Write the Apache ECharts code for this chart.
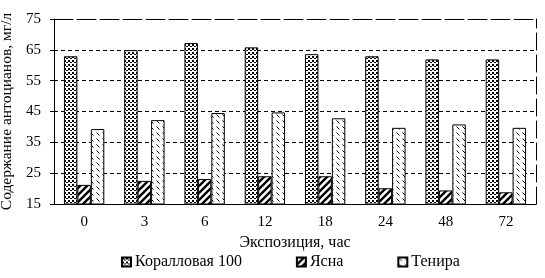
<!DOCTYPE html>
<html>
<head>
<meta charset="utf-8">
<script src="https://cdn.jsdelivr.net/npm/echarts@6/dist/echarts.min.js"></script>
<style>
  html, body { margin: 0; padding: 0; background: #fff; }
  #chart { width: 545px; height: 278px; }
</style>
</head>
<body>
<div id="chart"></div>
<script>
// chart data
const categories = ['0', '3', '6', '12', '18', '24', '48', '72']
const seriesNames = ['Коралловая 100', 'Ясна', 'Тенира']
const koral = [62.9, 64.9, 67.2, 65.8, 63.6, 62.9, 61.9, 61.9]
const yasna = [21.2, 22.5, 23.1, 24.0, 24.0, 20.1, 19.4, 18.8]
const tenira = [39.3, 42.2, 44.5, 44.7, 42.8, 39.7, 40.8, 39.7]

const font = '"Liberation Serif", "Times New Roman", serif'

// pattern tiles for the bar fills
function tile(size, draw) {
  const c = document.createElement('canvas')
  c.width = size
  c.height = size
  const ctx = c.getContext('2d')
  ctx.fillStyle = '#fff'
  ctx.fillRect(0, 0, size, size)
  draw(ctx)
  return { image: c, repeat: 'repeat' }
}

const dots = tile(4, ctx => {
  ctx.fillStyle = '#000'
  ctx.fillRect(0, 0, 2, 2)
  ctx.fillRect(2, 2, 2, 1)
})

const hatch = tile(7, ctx => {
  ctx.strokeStyle = '#000'
  ctx.lineWidth = 2.4
  ctx.beginPath()
  for (let k = -7; k <= 14; k += 7) {
    ctx.moveTo(k - 1, 8)
    ctx.lineTo(k + 8, -1)
  }
  ctx.stroke()
})

const dashes = tile(6, ctx => {
  ctx.strokeStyle = '#000'
  ctx.lineWidth = 1
  ctx.beginPath()
  ctx.moveTo(0.5, 0.5)
  ctx.lineTo(3.5, 3.5)
  ctx.stroke()
})

const fills = [dots, hatch, dashes]
const values = [koral, yasna, tenira]

const chart = echarts.init(document.getElementById('chart'), null, { renderer: 'canvas' })

chart.setOption({
  animation: false,
  textStyle: { fontFamily: font, color: '#000' },
  grid: { left: 54, right: 9, top: 19, bottom: 74, outerBoundsMode: 'none', containLabel: false },
  legend: {
    bottom: 3,
    left: 116,
    itemWidth: 9,
    itemHeight: 9,
    itemGap: 54,
    textStyle: { fontFamily: font, fontSize: 16, color: '#000', padding: [0, 0, 0, -1] },
    data: seriesNames.map(n => ({ name: n, icon: 'rect' }))
  },
  xAxis: [{
    type: 'category',
    data: categories,
    name: 'Экспозиция, час',
    nameLocation: 'middle',
    nameGap: 30,
    nameTextStyle: { fontFamily: font, fontSize: 16, color: '#000' },
    axisLine: { lineStyle: { color: '#000', width: 1 } },
    axisTick: { length: 5, lineStyle: { color: '#000' } },
    axisLabel: { margin: 11, fontSize: 15, color: '#000', fontFamily: font }
  }, {
    type: 'category',
    data: categories,
    position: 'top',
    axisLine: { lineStyle: { color: '#000', width: 1, type: [19, 4] } },
    axisTick: { show: false },
    axisLabel: { show: false }
  }],
  yAxis: [{
    type: 'value',
    min: 15,
    max: 75,
    interval: 10,
    name: 'Содержание антоцианов, мг/л',
    nameLocation: 'middle',
    nameGap: 36,
    nameTextStyle: { fontFamily: font, fontSize: 15.5, color: '#000' },
    axisLine: { show: true, lineStyle: { color: '#000', width: 1 } },
    axisTick: { show: true, length: 4, lineStyle: { color: '#000' } },
    axisLabel: { margin: 13, fontSize: 15, color: '#000', fontFamily: font },
    splitLine: {
      show: true,
      showMinLine: false,
      showMaxLine: false,
      lineStyle: { color: '#000', width: 1, type: [4, 3] }
    }
  }, {
    type: 'value',
    min: 15,
    max: 75,
    interval: 10,
    position: 'right',
    axisLine: { show: true, lineStyle: { color: '#000', width: 1, type: [17, 5] } },
    axisTick: { show: false },
    axisLabel: { show: false },
    splitLine: { show: false }
  }],
  series: seriesNames.map((name, i) => ({
    name,
    type: 'bar',
    data: values[i],
    barGap: '0%',
    barCategoryGap: '33%',
    itemStyle: { color: fills[i], borderColor: '#000', borderWidth: 1 }
  }))
})
</script>
</body>
</html>
